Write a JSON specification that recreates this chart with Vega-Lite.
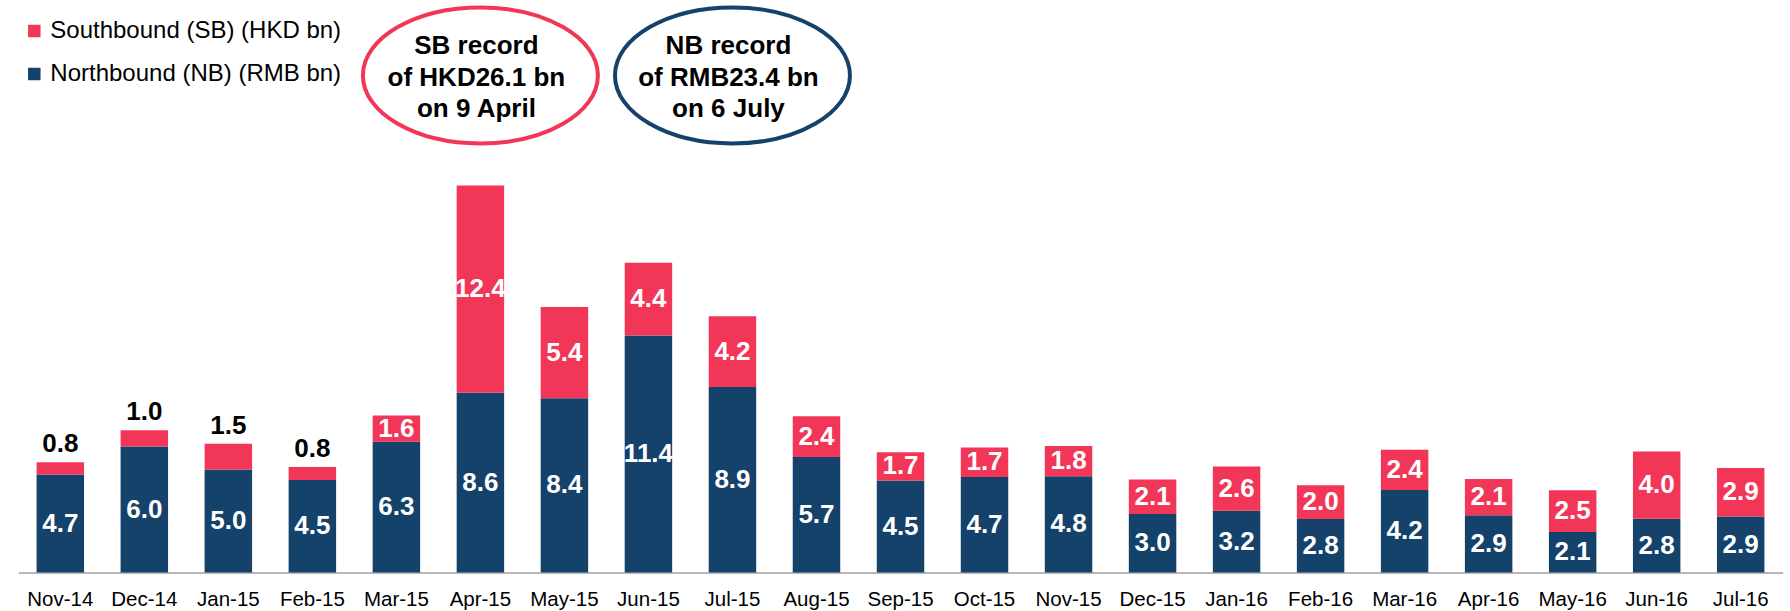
{
  "$schema": "https://vega.github.io/schema/vega-lite/v6.json",
  "width": 1764.4,
  "height": 572.5,
  "autosize": {"type": "none"},
  "padding": {"left": 18.3, "top": 0, "right": 7.3, "bottom": 38.5},
  "background": "white",
  "config": {"font": "Liberation Sans", "view": {"stroke": null}},
  "datasets": {
    "bars": [
      {"month": "Nov-14", "series": "Northbound (NB) (RMB bn)", "bar": 4.69, "label": 4.7},
      {"month": "Nov-14", "series": "Southbound (SB) (HKD bn)", "bar": 0.59, "label": 0.8},
      {"month": "Dec-14", "series": "Northbound (NB) (RMB bn)", "bar": 6.03, "label": 6.0},
      {"month": "Dec-14", "series": "Southbound (SB) (HKD bn)", "bar": 0.78, "label": 1.0},
      {"month": "Jan-15", "series": "Northbound (NB) (RMB bn)", "bar": 4.93, "label": 5.0},
      {"month": "Jan-15", "series": "Southbound (SB) (HKD bn)", "bar": 1.23, "label": 1.5},
      {"month": "Feb-15", "series": "Northbound (NB) (RMB bn)", "bar": 4.43, "label": 4.5},
      {"month": "Feb-15", "series": "Southbound (SB) (HKD bn)", "bar": 0.62, "label": 0.8},
      {"month": "Mar-15", "series": "Northbound (NB) (RMB bn)", "bar": 6.26, "label": 6.3},
      {"month": "Mar-15", "series": "Southbound (SB) (HKD bn)", "bar": 1.26, "label": 1.6},
      {"month": "Apr-15", "series": "Northbound (NB) (RMB bn)", "bar": 8.6, "label": 8.6},
      {"month": "Apr-15", "series": "Southbound (SB) (HKD bn)", "bar": 9.92, "label": 12.4},
      {"month": "May-15", "series": "Northbound (NB) (RMB bn)", "bar": 8.34, "label": 8.4},
      {"month": "May-15", "series": "Southbound (SB) (HKD bn)", "bar": 4.37, "label": 5.4},
      {"month": "Jun-15", "series": "Northbound (NB) (RMB bn)", "bar": 11.34, "label": 11.4},
      {"month": "Jun-15", "series": "Southbound (SB) (HKD bn)", "bar": 3.48, "label": 4.4},
      {"month": "Jul-15", "series": "Northbound (NB) (RMB bn)", "bar": 8.88, "label": 8.9},
      {"month": "Jul-15", "series": "Southbound (SB) (HKD bn)", "bar": 3.38, "label": 4.2},
      {"month": "Aug-15", "series": "Northbound (NB) (RMB bn)", "bar": 5.53, "label": 5.7},
      {"month": "Aug-15", "series": "Southbound (SB) (HKD bn)", "bar": 1.95, "label": 2.4},
      {"month": "Sep-15", "series": "Northbound (NB) (RMB bn)", "bar": 4.4, "label": 4.5},
      {"month": "Sep-15", "series": "Southbound (SB) (HKD bn)", "bar": 1.35, "label": 1.7},
      {"month": "Oct-15", "series": "Northbound (NB) (RMB bn)", "bar": 4.57, "label": 4.7},
      {"month": "Oct-15", "series": "Southbound (SB) (HKD bn)", "bar": 1.41, "label": 1.7},
      {"month": "Nov-15", "series": "Northbound (NB) (RMB bn)", "bar": 4.61, "label": 4.8},
      {"month": "Nov-15", "series": "Southbound (SB) (HKD bn)", "bar": 1.45, "label": 1.8},
      {"month": "Dec-15", "series": "Northbound (NB) (RMB bn)", "bar": 2.8, "label": 3.0},
      {"month": "Dec-15", "series": "Southbound (SB) (HKD bn)", "bar": 1.65, "label": 2.1},
      {"month": "Jan-16", "series": "Northbound (NB) (RMB bn)", "bar": 2.95, "label": 3.2},
      {"month": "Jan-16", "series": "Southbound (SB) (HKD bn)", "bar": 2.12, "label": 2.6},
      {"month": "Feb-16", "series": "Northbound (NB) (RMB bn)", "bar": 2.56, "label": 2.8},
      {"month": "Feb-16", "series": "Southbound (SB) (HKD bn)", "bar": 1.61, "label": 2.0},
      {"month": "Mar-16", "series": "Northbound (NB) (RMB bn)", "bar": 3.95, "label": 4.2},
      {"month": "Mar-16", "series": "Southbound (SB) (HKD bn)", "bar": 1.93, "label": 2.4},
      {"month": "Apr-16", "series": "Northbound (NB) (RMB bn)", "bar": 2.74, "label": 2.9},
      {"month": "Apr-16", "series": "Southbound (SB) (HKD bn)", "bar": 1.74, "label": 2.1},
      {"month": "May-16", "series": "Northbound (NB) (RMB bn)", "bar": 1.94, "label": 2.1},
      {"month": "May-16", "series": "Southbound (SB) (HKD bn)", "bar": 2.0, "label": 2.5},
      {"month": "Jun-16", "series": "Northbound (NB) (RMB bn)", "bar": 2.57, "label": 2.8},
      {"month": "Jun-16", "series": "Southbound (SB) (HKD bn)", "bar": 3.22, "label": 4.0},
      {"month": "Jul-16", "series": "Northbound (NB) (RMB bn)", "bar": 2.68, "label": 2.9},
      {"month": "Jul-16", "series": "Southbound (SB) (HKD bn)", "bar": 2.32, "label": 2.9}
    ],
    "notes": [
      {"month": "Apr-15", "y": 23.79, "ring": "SB", "text": "SB record\nof HKD26.1 bn\non 9 April"},
      {"month": "Jul-15", "y": 23.79, "ring": "NB", "text": "NB record\nof RMB23.4 bn\non 6 July"}
    ]
  },
  "encoding": {
    "x": {
      "field": "month",
      "type": "ordinal",
      "sort": null,
      "title": null,
      "scale": {
        "domain": ["Nov-14", "Dec-14", "Jan-15", "Feb-15", "Mar-15", "Apr-15", "May-15", "Jun-15", "Jul-15", "Aug-15", "Sep-15", "Oct-15", "Nov-15", "Dec-15", "Jan-16", "Feb-16", "Mar-16", "Apr-16", "May-16", "Jun-16", "Jul-16"],
        "paddingInner": 0.435,
        "paddingOuter": 0.2175
      },
      "axis": {
        "labelAngle": 0,
        "labelFontSize": 20.5,
        "labelColor": "#000000",
        "labelBaseline": "alphabetic",
        "labelPadding": 33.2,
        "ticks": false,
        "tickSize": 0,
        "domainColor": "#a0a0a0",
        "domainWidth": 1.6,
        "grid": false
      }
    }
  },
  "layer": [
    {
      "data": {"name": "bars"},
      "mark": {"type": "bar"},
      "encoding": {
        "y": {"field": "bar", "type": "quantitative", "stack": "zero", "scale": {"domain": [0, 27.4], "nice": false}, "axis": null},
        "color": {
          "field": "series",
          "type": "nominal",
          "scale": {"domain": ["Southbound (SB) (HKD bn)", "Northbound (NB) (RMB bn)"], "range": ["#f23658", "#15426b"]},
          "legend": {
            "orient": "none",
            "legendX": 4,
            "legendY": 19,
            "title": null,
            "symbolType": "square",
            "symbolSize": 156,
            "symbolStrokeWidth": 0,
            "symbolOpacity": 1,
            "labelFontSize": 24,
            "labelColor": "#000000",
            "labelLimit": 0,
            "labelOffset": 4,
            "rowPadding": 19,
            "padding": 0
          }
        },
        "order": {"field": "series", "sort": "ascending"}
      }
    },
    {
      "data": {"name": "bars"},
      "transform": [
        {"stack": "bar", "groupby": ["month"], "sort": [{"field": "series", "order": "ascending"}], "as": ["y0", "y1"]},
        {"calculate": "(datum.y0 + datum.y1) / 2", "as": "mid"},
        {"filter": "datum.series == 'Northbound (NB) (RMB bn)' || datum.label >= 1.55"}
      ],
      "mark": {"type": "text", "fill": "#ffffff", "fontSize": 26, "fontWeight": "bold", "baseline": "middle", "align": "center"},
      "encoding": {
        "y": {"field": "mid", "type": "quantitative", "scale": {"domain": [0, 27.4], "nice": false}, "axis": null},
        "text": {"field": "label", "type": "quantitative", "format": ".1f"}
      }
    },
    {
      "data": {"name": "bars"},
      "transform": [
        {"stack": "bar", "groupby": ["month"], "sort": [{"field": "series", "order": "ascending"}], "as": ["y0", "y1"]},
        {"filter": "datum.series == 'Southbound (SB) (HKD bn)' && datum.label < 1.55"}
      ],
      "mark": {"type": "text", "fill": "#000000", "fontSize": 26, "fontWeight": "bold", "baseline": "alphabetic", "align": "center", "dy": -10},
      "encoding": {
        "y": {"field": "y1", "type": "quantitative", "scale": {"domain": [0, 27.4], "nice": false}, "axis": null},
        "text": {"field": "label", "type": "quantitative", "format": ".1f"}
      }
    },
    {
      "data": {"name": "notes"},
      "mark": {"type": "point", "shape": "M-1,0C-1,-0.32,-0.5523,-0.579,0,-0.579C0.5523,-0.579,1,-0.32,1,0C1,0.32,0.5523,0.579,0,0.579C-0.5523,0.579,-1,0.32,-1,0Z", "size": 55225, "filled": false, "strokeWidth": 4, "opacity": 1, "fill": "#ffffff", "fillOpacity": 0},
      "encoding": {
        "y": {"field": "y", "type": "quantitative", "scale": {"domain": [0, 27.4], "nice": false}, "axis": null},
        "stroke": {"field": "ring", "type": "nominal", "scale": {"domain": ["SB", "NB"], "range": ["#f23658", "#15426b"]}, "legend": null}
      }
    },
    {
      "data": {"name": "notes"},
      "mark": {"type": "text", "fill": "#000000", "fontSize": 26, "fontWeight": "bold", "baseline": "middle", "align": "center", "lineBreak": "\n", "lineHeight": 31.7, "dy": -29.5, "dx": -4},
      "encoding": {
        "y": {"field": "y", "type": "quantitative", "scale": {"domain": [0, 27.4], "nice": false}, "axis": null},
        "text": {"field": "text", "type": "nominal"}
      }
    }
  ]
}
